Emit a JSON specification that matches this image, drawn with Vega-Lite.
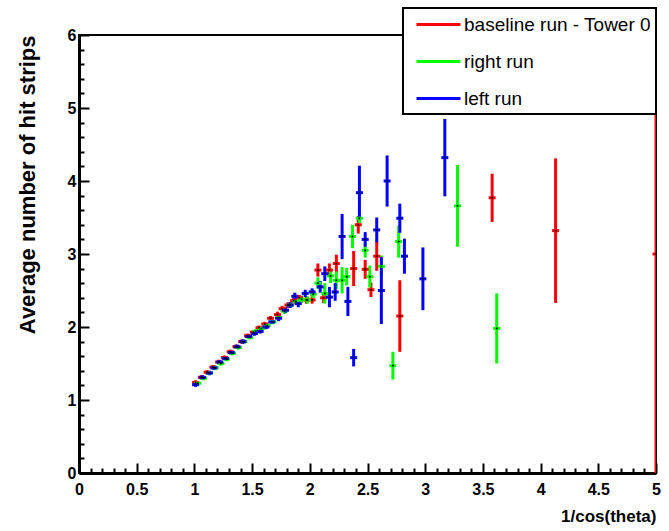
{
  "$schema": "https://vega.github.io/schema/vega-lite/v6.json",
  "width": 577,
  "height": 438,
  "autosize": {"type": "none"},
  "padding": {"left": 79, "top": 35, "right": 13, "bottom": 58},
  "background": "white",
  "config": {
    "view": {"stroke": "black", "strokeWidth": 2},
    "legend": {"strokeWidth": 2},
    "axis": {
      "grid": false,
      "domainColor": "black",
      "domainWidth": 3,
      "tickColor": "black",
      "tickWidth": 2,
      "labelColor": "black",
      "labelFont": "Liberation Sans",
      "labelFontWeight": "bold",
      "labelFontSize": 16,
      "titleColor": "black",
      "titleFont": "Liberation Sans",
      "titleFontWeight": "bold"
    }
  },
  "data": {
    "values": [
      {"run": "baseline run - Tower 0", "x": 1.01, "y": 1.24, "lo": 1.21, "hi": 1.27},
      {"run": "baseline run - Tower 0", "x": 1.06, "y": 1.31, "lo": 1.28, "hi": 1.34},
      {"run": "baseline run - Tower 0", "x": 1.11, "y": 1.38, "lo": 1.35, "hi": 1.41},
      {"run": "baseline run - Tower 0", "x": 1.16, "y": 1.45, "lo": 1.42, "hi": 1.48},
      {"run": "baseline run - Tower 0", "x": 1.21, "y": 1.52, "lo": 1.49, "hi": 1.55},
      {"run": "baseline run - Tower 0", "x": 1.26, "y": 1.58, "lo": 1.55, "hi": 1.61},
      {"run": "baseline run - Tower 0", "x": 1.31, "y": 1.66, "lo": 1.63, "hi": 1.69},
      {"run": "baseline run - Tower 0", "x": 1.36, "y": 1.73, "lo": 1.70, "hi": 1.76},
      {"run": "baseline run - Tower 0", "x": 1.41, "y": 1.80, "lo": 1.77, "hi": 1.83},
      {"run": "baseline run - Tower 0", "x": 1.46, "y": 1.88, "lo": 1.85, "hi": 1.91},
      {"run": "baseline run - Tower 0", "x": 1.51, "y": 1.93, "lo": 1.90, "hi": 1.96},
      {"run": "baseline run - Tower 0", "x": 1.56, "y": 1.99, "lo": 1.96, "hi": 2.02},
      {"run": "baseline run - Tower 0", "x": 1.61, "y": 2.04, "lo": 2.01, "hi": 2.07},
      {"run": "baseline run - Tower 0", "x": 1.66, "y": 2.12, "lo": 2.09, "hi": 2.15},
      {"run": "baseline run - Tower 0", "x": 1.72, "y": 2.17, "lo": 2.13, "hi": 2.21},
      {"run": "baseline run - Tower 0", "x": 1.76, "y": 2.25, "lo": 2.21, "hi": 2.29},
      {"run": "baseline run - Tower 0", "x": 1.81, "y": 2.30, "lo": 2.26, "hi": 2.34},
      {"run": "baseline run - Tower 0", "x": 1.86, "y": 2.36, "lo": 2.32, "hi": 2.40},
      {"run": "baseline run - Tower 0", "x": 1.91, "y": 2.40, "lo": 2.36, "hi": 2.44},
      {"run": "baseline run - Tower 0", "x": 1.97, "y": 2.37, "lo": 2.32, "hi": 2.42},
      {"run": "baseline run - Tower 0", "x": 2.02, "y": 2.37, "lo": 2.32, "hi": 2.42},
      {"run": "baseline run - Tower 0", "x": 2.07, "y": 2.78, "lo": 2.69, "hi": 2.87},
      {"run": "baseline run - Tower 0", "x": 2.12, "y": 2.40, "lo": 2.33, "hi": 2.47},
      {"run": "baseline run - Tower 0", "x": 2.17, "y": 2.78, "lo": 2.69, "hi": 2.87},
      {"run": "baseline run - Tower 0", "x": 2.23, "y": 2.87, "lo": 2.75, "hi": 2.99},
      {"run": "baseline run - Tower 0", "x": 2.38, "y": 2.80, "lo": 2.56, "hi": 3.04},
      {"run": "baseline run - Tower 0", "x": 2.42, "y": 3.40, "lo": 3.28, "hi": 3.52},
      {"run": "baseline run - Tower 0", "x": 2.48, "y": 2.79, "lo": 2.66, "hi": 2.92},
      {"run": "baseline run - Tower 0", "x": 2.53, "y": 2.51, "lo": 2.41, "hi": 2.61},
      {"run": "baseline run - Tower 0", "x": 2.58, "y": 2.97, "lo": 2.77, "hi": 3.17},
      {"run": "baseline run - Tower 0", "x": 2.78, "y": 2.15, "lo": 1.66, "hi": 2.64},
      {"run": "baseline run - Tower 0", "x": 3.58, "y": 3.77, "lo": 3.44, "hi": 4.10},
      {"run": "baseline run - Tower 0", "x": 4.13, "y": 3.32, "lo": 2.33, "hi": 4.31},
      {"run": "baseline run - Tower 0", "x": 5.0, "y": 3.0, "lo": 0.0, "hi": 6.0},
      {"run": "right run", "x": 1.03, "y": 1.23, "lo": 1.20, "hi": 1.26},
      {"run": "right run", "x": 1.08, "y": 1.30, "lo": 1.27, "hi": 1.33},
      {"run": "right run", "x": 1.13, "y": 1.37, "lo": 1.34, "hi": 1.40},
      {"run": "right run", "x": 1.18, "y": 1.44, "lo": 1.41, "hi": 1.47},
      {"run": "right run", "x": 1.23, "y": 1.50, "lo": 1.47, "hi": 1.53},
      {"run": "right run", "x": 1.28, "y": 1.56, "lo": 1.53, "hi": 1.59},
      {"run": "right run", "x": 1.33, "y": 1.64, "lo": 1.61, "hi": 1.67},
      {"run": "right run", "x": 1.38, "y": 1.72, "lo": 1.69, "hi": 1.75},
      {"run": "right run", "x": 1.43, "y": 1.80, "lo": 1.77, "hi": 1.83},
      {"run": "right run", "x": 1.48, "y": 1.86, "lo": 1.83, "hi": 1.89},
      {"run": "right run", "x": 1.53, "y": 1.94, "lo": 1.91, "hi": 1.97},
      {"run": "right run", "x": 1.58, "y": 1.98, "lo": 1.95, "hi": 2.01},
      {"run": "right run", "x": 1.63, "y": 2.02, "lo": 1.99, "hi": 2.05},
      {"run": "right run", "x": 1.68, "y": 2.07, "lo": 2.04, "hi": 2.10},
      {"run": "right run", "x": 1.73, "y": 2.13, "lo": 2.09, "hi": 2.17},
      {"run": "right run", "x": 1.78, "y": 2.22, "lo": 2.18, "hi": 2.26},
      {"run": "right run", "x": 1.83, "y": 2.30, "lo": 2.26, "hi": 2.34},
      {"run": "right run", "x": 1.88, "y": 2.35, "lo": 2.31, "hi": 2.39},
      {"run": "right run", "x": 1.93, "y": 2.38, "lo": 2.33, "hi": 2.43},
      {"run": "right run", "x": 1.98, "y": 2.37, "lo": 2.32, "hi": 2.42},
      {"run": "right run", "x": 2.03, "y": 2.45, "lo": 2.39, "hi": 2.51},
      {"run": "right run", "x": 2.07, "y": 2.60, "lo": 2.52, "hi": 2.68},
      {"run": "right run", "x": 2.13, "y": 2.46, "lo": 2.32, "hi": 2.60},
      {"run": "right run", "x": 2.18, "y": 2.70, "lo": 2.60, "hi": 2.80},
      {"run": "right run", "x": 2.23, "y": 2.64, "lo": 2.52, "hi": 2.76},
      {"run": "right run", "x": 2.28, "y": 2.64, "lo": 2.46, "hi": 2.82},
      {"run": "right run", "x": 2.32, "y": 2.69, "lo": 2.57, "hi": 2.81},
      {"run": "right run", "x": 2.37, "y": 3.24, "lo": 3.08, "hi": 3.40},
      {"run": "right run", "x": 2.43, "y": 3.49, "lo": 3.42, "hi": 3.56},
      {"run": "right run", "x": 2.48, "y": 3.05, "lo": 2.95, "hi": 3.15},
      {"run": "right run", "x": 2.52, "y": 2.69, "lo": 2.54, "hi": 2.84},
      {"run": "right run", "x": 2.62, "y": 2.83, "lo": 2.68, "hi": 2.98},
      {"run": "right run", "x": 2.72, "y": 1.47, "lo": 1.28, "hi": 1.66},
      {"run": "right run", "x": 2.77, "y": 3.17, "lo": 2.95, "hi": 3.39},
      {"run": "right run", "x": 3.28, "y": 3.66, "lo": 3.10, "hi": 4.22},
      {"run": "right run", "x": 3.62, "y": 1.98, "lo": 1.50, "hi": 2.46},
      {"run": "left run", "x": 1.01, "y": 1.21, "lo": 1.18, "hi": 1.24},
      {"run": "left run", "x": 1.07, "y": 1.31, "lo": 1.28, "hi": 1.34},
      {"run": "left run", "x": 1.13, "y": 1.37, "lo": 1.34, "hi": 1.40},
      {"run": "left run", "x": 1.17, "y": 1.44, "lo": 1.41, "hi": 1.47},
      {"run": "left run", "x": 1.22, "y": 1.52, "lo": 1.49, "hi": 1.55},
      {"run": "left run", "x": 1.27, "y": 1.57, "lo": 1.54, "hi": 1.60},
      {"run": "left run", "x": 1.32, "y": 1.65, "lo": 1.62, "hi": 1.68},
      {"run": "left run", "x": 1.37, "y": 1.73, "lo": 1.70, "hi": 1.76},
      {"run": "left run", "x": 1.42, "y": 1.80, "lo": 1.77, "hi": 1.83},
      {"run": "left run", "x": 1.47, "y": 1.87, "lo": 1.84, "hi": 1.90},
      {"run": "left run", "x": 1.52, "y": 1.91, "lo": 1.88, "hi": 1.94},
      {"run": "left run", "x": 1.57, "y": 1.94, "lo": 1.91, "hi": 1.97},
      {"run": "left run", "x": 1.62, "y": 2.00, "lo": 1.97, "hi": 2.03},
      {"run": "left run", "x": 1.67, "y": 2.07, "lo": 2.04, "hi": 2.10},
      {"run": "left run", "x": 1.73, "y": 2.12, "lo": 2.08, "hi": 2.16},
      {"run": "left run", "x": 1.79, "y": 2.23, "lo": 2.19, "hi": 2.27},
      {"run": "left run", "x": 1.83, "y": 2.30, "lo": 2.26, "hi": 2.34},
      {"run": "left run", "x": 1.87, "y": 2.42, "lo": 2.37, "hi": 2.47},
      {"run": "left run", "x": 1.90, "y": 2.32, "lo": 2.27, "hi": 2.37},
      {"run": "left run", "x": 1.96, "y": 2.46, "lo": 2.41, "hi": 2.51},
      {"run": "left run", "x": 2.02, "y": 2.48, "lo": 2.43, "hi": 2.53},
      {"run": "left run", "x": 2.09, "y": 2.55, "lo": 2.47, "hi": 2.63},
      {"run": "left run", "x": 2.13, "y": 2.73, "lo": 2.63, "hi": 2.83},
      {"run": "left run", "x": 2.17, "y": 2.41, "lo": 2.27, "hi": 2.55},
      {"run": "left run", "x": 2.22, "y": 2.48, "lo": 2.36, "hi": 2.60},
      {"run": "left run", "x": 2.28, "y": 3.24, "lo": 2.93, "hi": 3.55},
      {"run": "left run", "x": 2.33, "y": 2.35, "lo": 2.15, "hi": 2.55},
      {"run": "left run", "x": 2.38, "y": 1.58, "lo": 1.46, "hi": 1.70},
      {"run": "left run", "x": 2.43, "y": 3.84, "lo": 3.47, "hi": 4.21},
      {"run": "left run", "x": 2.48, "y": 3.20, "lo": 3.10, "hi": 3.30},
      {"run": "left run", "x": 2.58, "y": 3.33, "lo": 3.16, "hi": 3.50},
      {"run": "left run", "x": 2.62, "y": 2.50, "lo": 2.04, "hi": 2.96},
      {"run": "left run", "x": 2.67, "y": 4.00, "lo": 3.65, "hi": 4.35},
      {"run": "left run", "x": 2.78, "y": 3.49, "lo": 3.29, "hi": 3.69},
      {"run": "left run", "x": 2.82, "y": 2.97, "lo": 2.73, "hi": 3.21},
      {"run": "left run", "x": 2.98, "y": 2.66, "lo": 2.23, "hi": 3.09},
      {"run": "left run", "x": 3.17, "y": 4.32, "lo": 3.79, "hi": 4.85}
    ]
  },
  "encoding": {
    "x": {
      "field": "x",
      "type": "quantitative",
      "scale": {"domain": [0, 5], "nice": false, "zero": false},
      "axis": {
        "title": "1/cos(theta)",
        "titleFontSize": 17,
        "titleAnchor": "end",
        "titleBaseline": "middle",
        "titleY": 43,
        "values": [0, 0.1, 0.2, 0.3, 0.4, 0.5, 0.6, 0.7, 0.8, 0.9, 1, 1.1, 1.2, 1.3, 1.4, 1.5, 1.6, 1.7, 1.8, 1.9, 2, 2.1, 2.2, 2.3, 2.4, 2.5, 2.6, 2.7, 2.8, 2.9, 3, 3.1, 3.2, 3.3, 3.4, 3.5, 3.6, 3.7, 3.8, 3.9, 4, 4.1, 4.2, 4.3, 4.4, 4.5, 4.6, 4.7, 4.8, 4.9, 5],
        "format": "~g",
        "labelExpr": "abs(datum.value * 2 - round(datum.value * 2)) < 0.001 ? datum.label : ''",
        "labelFlush": false,
        "labelOverlap": false,
        "labelPadding": 18,
        "tickSize": {"condition": {"test": "abs(datum.value * 2 - round(datum.value * 2)) < 0.001", "value": -10}, "value": -5}
      }
    },
    "y": {
      "field": "y",
      "type": "quantitative",
      "scale": {"domain": [0, 6], "nice": false, "zero": false},
      "axis": {
        "title": "Average number of hit strips",
        "titleFontSize": 22,
        "titleAnchor": "end",
        "titleAngle": -90,
        "titleBaseline": "middle",
        "titleX": -52,
        "values": [0, 0.2, 0.4, 0.6, 0.8, 1, 1.2, 1.4, 1.6, 1.8, 2, 2.2, 2.4, 2.6, 2.8, 3, 3.2, 3.4, 3.6, 3.8, 4, 4.2, 4.4, 4.6, 4.8, 5, 5.2, 5.4, 5.6, 5.8, 6],
        "format": "~g",
        "labelExpr": "abs(datum.value - round(datum.value)) < 0.001 ? datum.label : ''",
        "labelFlush": false,
        "labelOverlap": false,
        "labelPadding": 13,
        "tickSize": {"condition": {"test": "abs(datum.value - round(datum.value)) < 0.001", "value": -10}, "value": -5}
      }
    },
    "color": {
      "field": "run",
      "type": "nominal",
      "scale": {
        "domain": ["baseline run - Tower 0", "right run", "left run"],
        "range": ["#ff0000", "#00ff00", "#0000ff"]
      },
      "legend": {
        "title": null,
        "orient": "none",
        "legendX": 324,
        "legendY": -27,
        "direction": "vertical",
        "strokeColor": "black",
        "fillColor": "white",
        "padding": 5,
        "symbolType": "M-2.2,0H2.2",
        "symbolSize": 400,
        "symbolStrokeWidth": 3,
        "symbolOffset": 19,
        "labelFont": "Liberation Sans",
        "labelFontSize": 19,
        "labelColor": "black",
        "labelOffset": 14,
        "labelLimit": 300,
        "rowPadding": 15
      }
    }
  },
  "layer": [
    {
      "mark": {"type": "rule", "strokeWidth": 3, "clip": true},
      "encoding": {
        "y": {"field": "lo", "type": "quantitative"},
        "y2": {"field": "hi"}
      }
    },
    {
      "mark": {"type": "tick", "orient": "horizontal", "size": 7, "thickness": 3, "opacity": 1, "clip": true}
    },
    {
      "mark": {"type": "square", "size": 3, "opacity": 1, "filled": true, "clip": true},
      "encoding": {"color": {"value": "black"}}
    }
  ]
}
